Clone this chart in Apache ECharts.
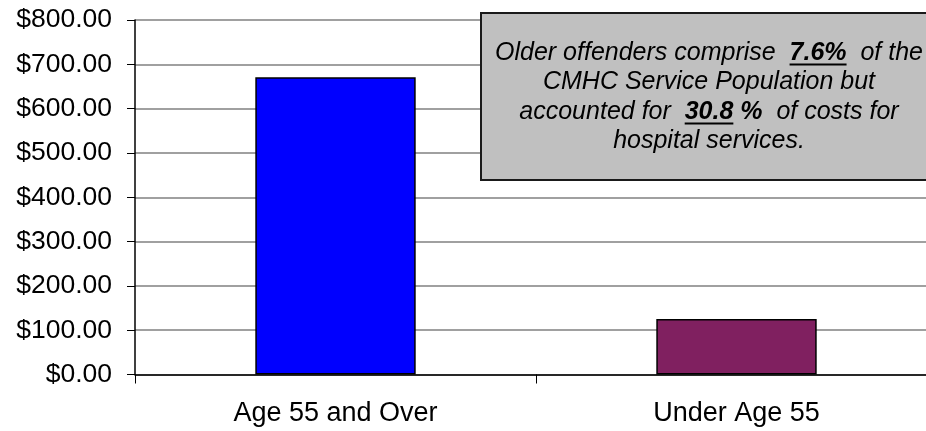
<!DOCTYPE html>
<html>
<head>
<meta charset="utf-8">
<script src="https://cdn.jsdelivr.net/npm/echarts@6/dist/echarts.min.js"></script>
<style>
  html, body { margin: 0; padding: 0; background: #fff; }
  #chart { width: 926px; height: 431px; }
</style>
</head>
<body>
<div id="chart"></div>
<script>
// Average hospital service cost per client, by age group
const categories = ['Age 55 and Over', 'Under Age 55'];
const costValues = [671, 125];
const barColors = ['#0000FF', '#802060'];

// Value axis range and step (dollars)
const yMin = 0;
const yMax = 800;
const yStep = 100;

// Callout text: each line is a list of segments
const noteLines = [
  [
    { text: 'Older offenders comprise  ' },
    { text: '7.6%', bold: true, underline: true },
    { text: '  of the' }
  ],
  [ { text: 'CMHC Service Population but' } ],
  [
    { text: 'accounted for  ' },
    { text: '30.8', bold: true, underline: true },
    { text: ' %', bold: true },
    { text: '  of costs for' }
  ],
  [ { text: 'hospital services.' } ]
];

const FONT_FAMILY = '"Liberation Sans", Arial, sans-serif';
const chart = echarts.init(document.getElementById('chart'), null, { renderer: 'canvas' });

// Build callout box elements: rectangle, text segments and underlines
function buildNote() {
  const box = { x: 481, y: 13, w: 456, h: 167 };
  const fontSize = 25;
  const lineCenters = [53, 82.5, 112, 141.5];
  const centerX = box.x + box.w / 2;
  const ctx = document.createElement('canvas').getContext('2d');
  const fontFor = seg => 'italic ' + (seg.bold ? 'bold ' : '') + fontSize + 'px ' + FONT_FAMILY;

  const elements = [{
    type: 'rect',
    shape: { x: box.x, y: box.y, width: box.w, height: box.h },
    style: { fill: '#C0C0C0', stroke: '#1a1a1a', lineWidth: 2 },
    z: 10
  }];

  noteLines.forEach((segs, i) => {
    const widths = segs.map(s => { ctx.font = fontFor(s); return ctx.measureText(s.text).width; });
    const total = widths.reduce((a, b) => a + b, 0);
    let x = centerX - total / 2;
    const yc = lineCenters[i];
    segs.forEach((s, k) => {
      elements.push({
        type: 'text',
        x: x, y: yc,
        style: {
          text: s.text,
          font: fontFor(s),
          fill: '#000',
          textAlign: 'left',
          textVerticalAlign: 'middle',
          align: 'left',
          verticalAlign: 'middle'
        },
        z: 11
      });
      if (s.underline) {
        const uy = yc + 11.5;
        elements.push({
          type: 'line',
          shape: { x1: x, y1: uy, x2: x + widths[k], y2: uy },
          style: { stroke: '#000', lineWidth: 2 },
          z: 11
        });
      }
      x += widths[k];
    });
  });
  return elements;
}

const option = {
  backgroundColor: '#ffffff',
  animation: false,
  grid: {
    left: 135, top: 20, width: 802, height: 354.5,
    containLabel: false,
    outerBoundsMode: 'none'
  },
  xAxis: {
    type: 'category',
    data: categories,
    boundaryGap: true,
    axisLine: { show: true, lineStyle: { color: '#000', width: 1.5 } },
    axisTick: { show: true, alignWithLabel: false, length: 9, lineStyle: { color: '#000', width: 1 } },
    axisLabel: { color: '#000', fontSize: 27, fontFamily: FONT_FAMILY, margin: 26 },
    splitLine: { show: false }
  },
  yAxis: {
    type: 'value',
    min: yMin,
    max: yMax,
    interval: yStep,
    axisLine: { show: true, lineStyle: { color: '#000', width: 1.5 } },
    axisTick: { show: true, length: 8, lineStyle: { color: '#000', width: 1 } },
    axisLabel: {
      color: '#000', fontSize: 26.5, fontFamily: FONT_FAMILY, margin: 23,
      formatter: v => '$' + v.toFixed(2)
    },
    splitLine: { show: true, lineStyle: { color: '#808080', width: 1.5 } }
  },
  series: [{
    type: 'bar',
    data: costValues.map((v, i) => ({ value: v, itemStyle: { color: barColors[i] } })),
    barWidth: '40%',
    itemStyle: { borderColor: '#000', borderWidth: 1.5 }
  }],
  graphic: { elements: buildNote() }
};

chart.setOption(option);
</script>
</body>
</html>
